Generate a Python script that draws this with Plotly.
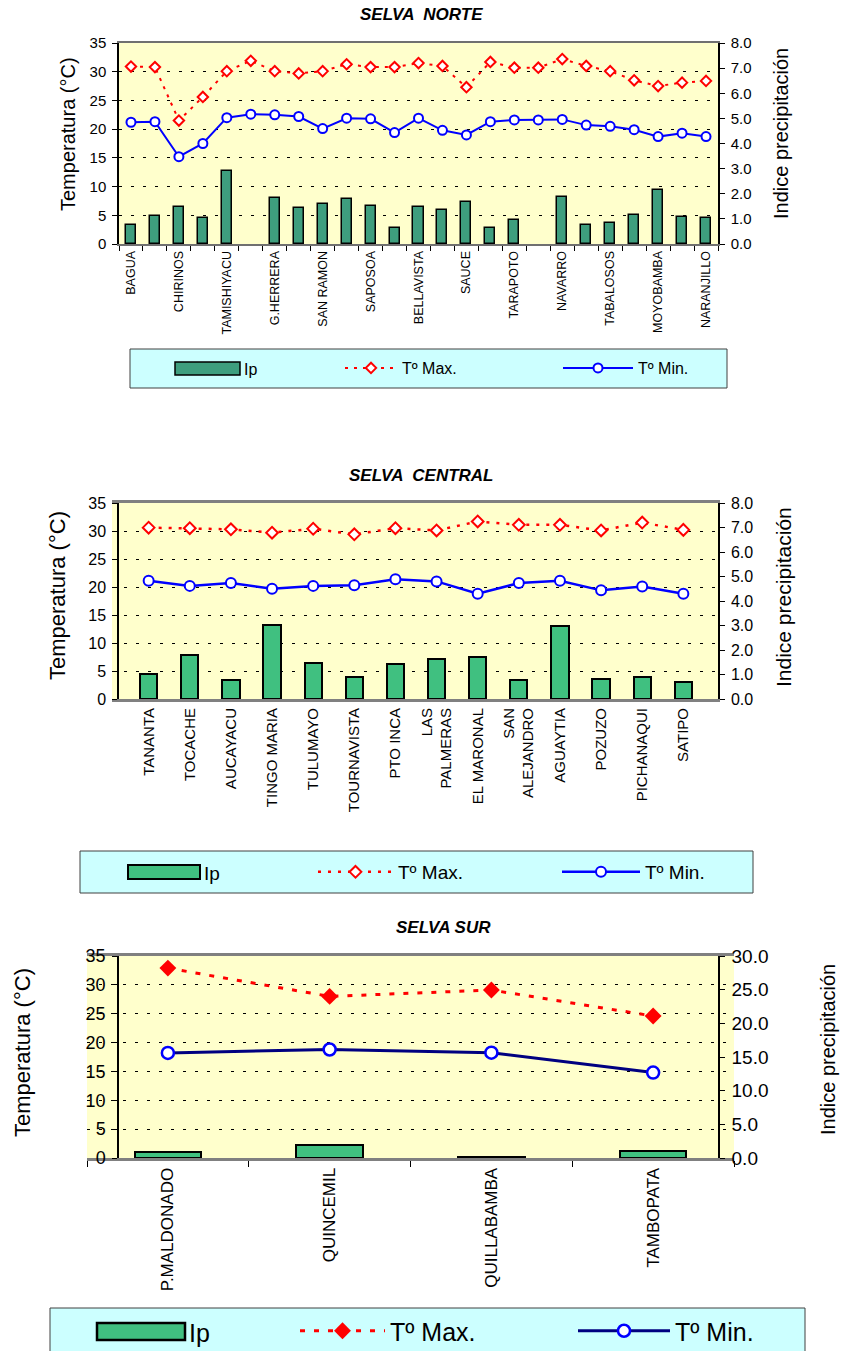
import plotly.graph_objects as go

W, H = 843, 1351
FONT = 'Liberation Sans, Arial, sans-serif'

# ---- SELVA NORTE (25 estaciones, Excel solo rotula una de cada dos)
norte_labels = ['BAGUA', 'CHIRINOS', 'TAMISHIYACU', 'G.HERRERA', 'SAN RAMON', 'SAPOSOA',
                'BELLAVISTA', 'SAUCE', 'TARAPOTO', 'NAVARRO', 'TABALOSOS', 'MOYOBAMBA',
                'NARANJILLO']
norte_tmax = [30.9, 30.8, 21.5, 25.6, 30.1, 31.9, 30.1, 29.7, 30.1, 31.3, 30.8, 30.8, 31.5,
              31.0, 27.3, 31.7, 30.7, 30.7, 32.2, 31.0, 30.1, 28.5, 27.5, 28.1, 28.4]
norte_tmin = [21.2, 21.3, 15.2, 17.5, 22.0, 22.6, 22.5, 22.2, 20.1, 21.9, 21.8, 19.4, 21.9,
              19.8, 19.0, 21.3, 21.6, 21.6, 21.7, 20.7, 20.5, 19.9, 18.7, 19.3, 18.7]
norte_ip = [0.74, 1.12, 1.48, 1.03, 2.90, None, 1.85, 1.43, 1.61, 1.81, 1.52, 0.65, 1.46,
            1.34, 1.67, 0.62, 0.94, None, 1.89, 0.74, 0.83, 1.16, 2.13, 1.07, 1.02]

# ---- SELVA CENTRAL
central_est = ['TANANTA', 'TOCACHE', 'AUCAYACU', 'TINGO MARIA', 'TULUMAYO', 'TOURNAVISTA',
               'PTO INCA', 'LAS<br>PALMERAS', 'EL MARONAL', 'SAN<br>ALEJANDRO', 'AGUAYTIA',
               'POZUZO', 'PICHANAQUI', 'SATIPO']
central_tmax = [30.6, 30.5, 30.3, 29.7, 30.4, 29.4, 30.5, 30.1, 31.7, 31.1, 31.1, 30.1, 31.5, 30.2]
central_tmin = [21.1, 20.2, 20.7, 19.7, 20.2, 20.3, 21.4, 21.0, 18.8, 20.7, 21.1, 19.4, 20.1, 18.8]
central_ip = [1.04, 1.80, 0.76, 3.03, 1.46, 0.90, 1.43, 1.65, 1.72, 0.76, 2.99, 0.82, 0.89, 0.70]

# ---- SELVA SUR
sur_est = ['P.MALDONADO', 'QUINCEMIL', 'QUILLABAMBA', 'TAMBOPATA']
sur_tmax = [32.9, 28.0, 29.1, 24.6]
sur_tmin = [18.2, 18.8, 18.25, 14.8]
sur_ip = [0.9, 1.9, 0.15, 1.0]

GREEN_N = '#3E9E7E'
GREEN_C = '#40C080'


def fx(p):
    return p / W


def fy(p):
    return 1 - p / H


def y_left(top, bottom, size):
    return dict(domain=[fy(bottom), fy(top)], range=[0, 35], dtick=5, tick0=0,
                showline=True, linecolor='black', linewidth=1.5,
                ticks='outside', ticklen=5, tickcolor='black', ticklabelstandoff=3,
                showgrid=True, gridcolor='black', gridwidth=1, griddash='3px,9px',
                zeroline=False, automargin=False,
                tickfont=dict(size=size, color='black', family=FONT))


def y_right(over, rmax, dtick, size):
    return dict(overlaying=over, side='right', range=[0, rmax], dtick=dtick, tickformat='.1f',
                showline=True, linecolor='black', linewidth=1.5,
                ticks='outside', ticklen=5, tickcolor='black', ticklabelstandoff=3,
                showgrid=False, zeroline=False, automargin=False,
                tickfont=dict(size=size, color='black', family=FONT))


def leg(x, yc, size, itemwidth):
    return dict(x=fx(x), y=fy(yc), xanchor='left', yanchor='middle', orientation='h',
                bgcolor='rgba(0,0,0,0)', itemwidth=itemwidth, borderwidth=0,
                font=dict(size=size, family=FONT, color='black'))


def note(txt, x, y, size, angle=0, xanchor='center'):
    fig.add_annotation(text=txt, x=fx(x), y=fy(y), xref='paper', yref='paper', showarrow=False,
                       xanchor=xanchor, yanchor='middle', textangle=angle,
                       font=dict(size=size, family=FONT, color='black'))


fig = go.Figure()

# Selva Norte
norte_x = list(range(len(norte_tmax)))
fig.add_trace(go.Bar(x=norte_x, y=norte_ip, xaxis='x', yaxis='y2', name='Ip', showlegend=False,
                     width=0.42, marker=dict(color=GREEN_N, line=dict(color='black', width=1.5))))
fig.add_trace(go.Scatter(x=norte_x, y=norte_tmax, xaxis='x', yaxis='y', name='Tº Max.',
                         legend='legend', mode='lines+markers',
                         line=dict(color='#FF0000', width=2, dash='3px,6px'),
                         marker=dict(symbol='diamond', size=8, color='white',
                                     line=dict(color='#FF0000', width=2))))
fig.add_trace(go.Scatter(x=norte_x, y=norte_tmin, xaxis='x', yaxis='y', name='Tº Min.',
                         legend='legend2', mode='lines+markers',
                         line=dict(color='#0000FF', width=2),
                         marker=dict(symbol='circle', size=9, color='white',
                                     line=dict(color='#0000FF', width=2))))

# Selva Central
fig.add_trace(go.Bar(x=central_est, y=central_ip, xaxis='x2', yaxis='y4', name='Ip',
                     showlegend=False, width=0.42,
                     marker=dict(color=GREEN_C, line=dict(color='black', width=2))))
fig.add_trace(go.Scatter(x=central_est, y=central_tmax, xaxis='x2', yaxis='y3', name='Tº Max.',
                         legend='legend3', mode='lines+markers',
                         line=dict(color='#FF0000', width=2.5, dash='3px,7px'),
                         marker=dict(symbol='diamond', size=9, color='white',
                                     line=dict(color='#FF0000', width=2))))
fig.add_trace(go.Scatter(x=central_est, y=central_tmin, xaxis='x2', yaxis='y3', name='Tº Min.',
                         legend='legend4', mode='lines+markers',
                         line=dict(color='#0000FF', width=2.5),
                         marker=dict(symbol='circle', size=10, color='white',
                                     line=dict(color='#0000FF', width=2))))

# Selva Sur
fig.add_trace(go.Bar(x=sur_est, y=sur_ip, xaxis='x3', yaxis='y6', name='Ip',
                     showlegend=False, width=0.41,
                     marker=dict(color=GREEN_C, line=dict(color='black', width=2))))
fig.add_trace(go.Scatter(x=sur_est, y=sur_tmax, xaxis='x3', yaxis='y5', name='Tº Max.',
                         legend='legend5', mode='lines+markers',
                         line=dict(color='#FF0000', width=3, dash='5px,9px'),
                         marker=dict(symbol='diamond', size=13, color='#FF0000')))
fig.add_trace(go.Scatter(x=sur_est, y=sur_tmin, xaxis='x3', yaxis='y5', name='Tº Min.',
                         legend='legend6', mode='lines+markers',
                         line=dict(color='#000080', width=3),
                         marker=dict(symbol='circle', size=12, color='white',
                                     line=dict(color='#0000FF', width=2.5))))

fig.update_layout(
    width=W, height=H,
    margin=dict(l=0, r=0, t=0, b=0, autoexpand=False),
    paper_bgcolor='white', plot_bgcolor='#FFFFCC',
    font=dict(family=FONT, color='black'),
    bargap=0,
    xaxis=dict(domain=[fx(119), fx(718)], anchor='y', range=[-0.5, 24.5],
               tickmode='array', tickvals=norte_x[::2], ticktext=norte_labels,
               tickangle=-90, ticks='', tickfont=dict(size=12.5, family=FONT),
               minor=dict(tickmode='linear', tick0=-0.5, dtick=1, ticks='outside',
                          ticklen=5, tickcolor='black', showgrid=False),
               showline=True, linecolor='#707070', linewidth=2, mirror=True,
               showgrid=False, zeroline=False, automargin=False),
    yaxis=y_left(43, 244, 15),
    yaxis2=y_right('y', 8, 1, 15),
    xaxis2=dict(domain=[fx(112), fx(720)], anchor='y3', type='category',
                tickangle=-90, ticks='', tickfont=dict(size=15, family=FONT),
                showline=True, linecolor='#808080', linewidth=3, mirror=True,
                showgrid=False, automargin=False),
    yaxis3=y_left(503, 699, 16),
    yaxis4=y_right('y3', 8, 1, 16),
    xaxis3=dict(domain=[fx(87), fx(734)], anchor='y5', type='category',
                tickangle=-90, ticks='outside', tickson='boundaries', ticklen=6,
                tickcolor='black', tickfont=dict(size=17, family=FONT),
                showline=True, linecolor='#808080', linewidth=3, mirror=True,
                showgrid=False, automargin=False),
    yaxis5=y_left(956, 1158, 18),
    yaxis6=y_right('y5', 30, 5, 19),
    legend=leg(340, 368, 16, 52),
    legend2=leg(558, 368, 16, 70),
    legend3=leg(313, 872, 19, 75),
    legend4=leg(557, 872, 19, 78),
    legend5=leg(295, 1331, 25, 85),
    legend6=leg(573, 1331, 25, 92),
)

# legend boxes + Ip key
boxes = [(130, 349, 727, 388), (80, 851, 753, 893), (50, 1308, 805, 1352)]
ip_keys = [(175, 362, 240, 375, GREEN_N, 1.5, 16), (128, 865, 200, 879, GREEN_C, 2, 19),
           (97, 1323, 185, 1340, GREEN_C, 2.5, 25)]
for (x0, y0, x1, y1), (k0, ky0, k1, ky1, col, lw, fs) in zip(boxes, ip_keys):
    fig.add_shape(type='rect', xref='paper', yref='paper', x0=fx(x0), x1=fx(x1), y0=fy(y1), y1=fy(y0),
                  fillcolor='#CCFFFF', line=dict(color='#404040', width=1), layer='below')
    fig.add_shape(type='rect', xref='paper', yref='paper', x0=fx(k0), x1=fx(k1), y0=fy(ky1), y1=fy(ky0),
                  fillcolor=col, line=dict(color='black', width=lw))
    note('Ip', k1 + 2, (ky0 + ky1) / 2 + 1, fs, xanchor='left')

# titles
for txt, x, y in [('SELVA  NORTE', 421, 14), ('SELVA  CENTRAL', 421, 476), ('SELVA SUR', 443, 927)]:
    note('<b><i>' + txt + '</i></b>', x, y, 17)

# axis titles
for txt, x, y, size in [('Temperatura (°C)', 68, 134, 20), ('Indice precipitación', 781, 134, 20),
                        ('Temperatura (°C)', 57, 596, 22), ('Indice precipitación', 784, 597, 21),
                        ('Temperatura (°C)', 22, 1053, 22), ('Indice precipitación', 828, 1050, 20)]:
    note(txt, x, y, size, angle=-90)

fig.write_html('out.html', config={'displayModeBar': False})
with open('out.html', encoding='utf-8') as f:
    html = f.read()
html = html.replace('<head>', '<head><style>body{margin:0;overflow:hidden}</style>', 1)
with open('out.html', 'w', encoding='utf-8') as f:
    f.write(html)
